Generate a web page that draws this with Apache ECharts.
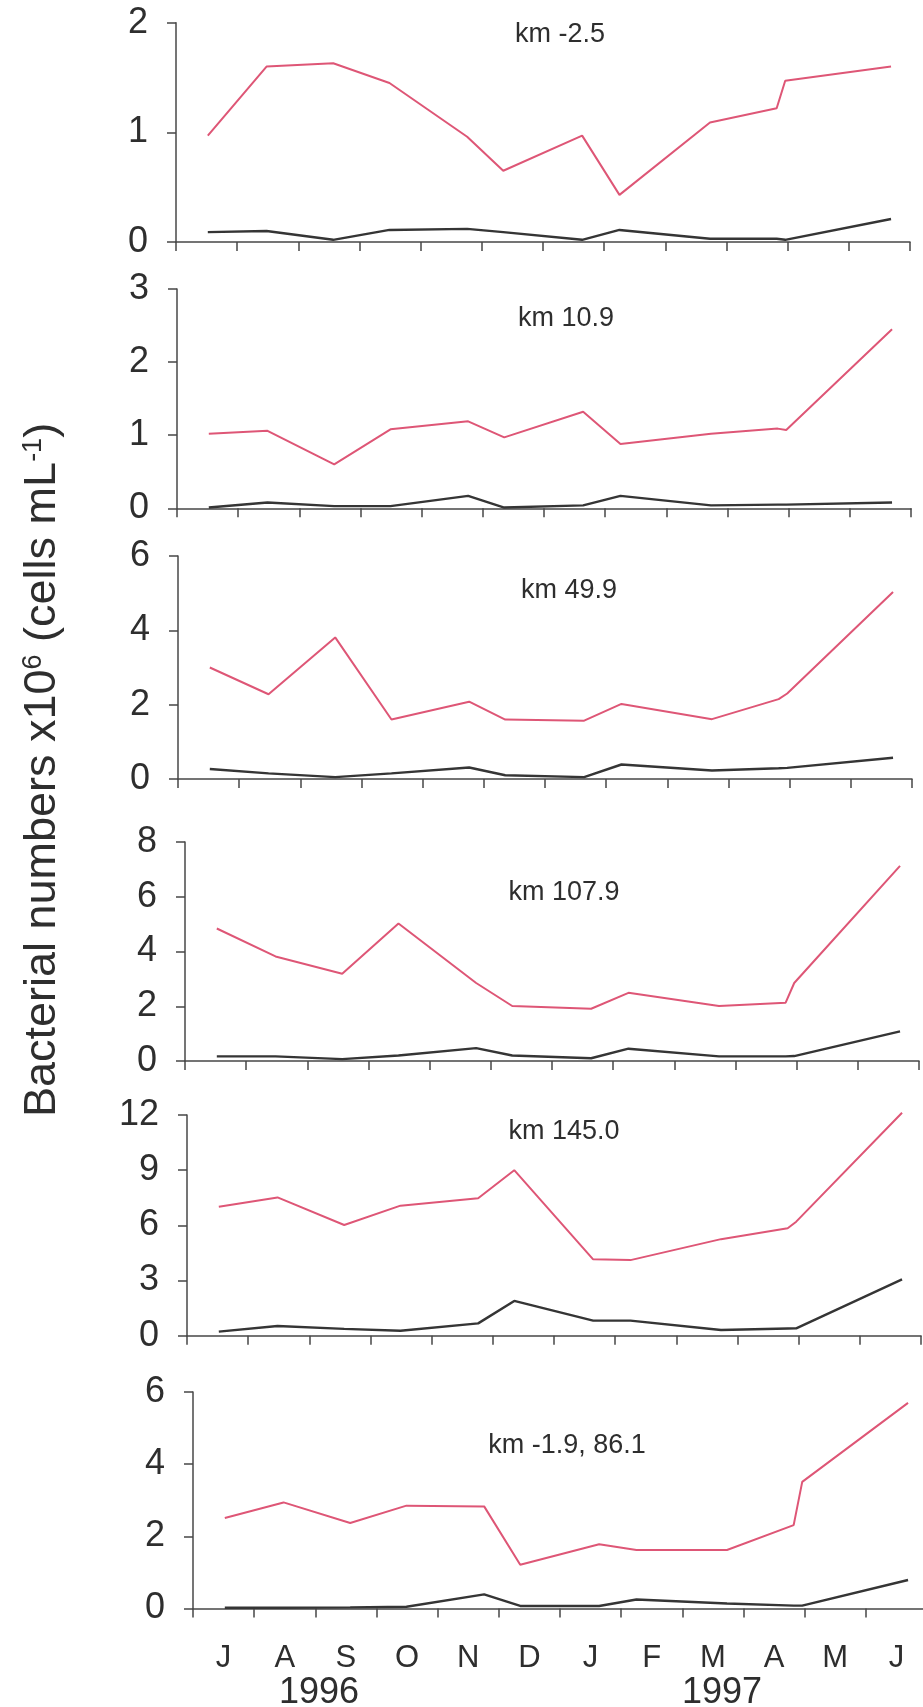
<!DOCTYPE html>
<html>
<head>
<meta charset="utf-8">
<title>Bacterial numbers</title>
<script src="https://cdn.jsdelivr.net/npm/echarts@6/dist/echarts.min.js"></script>
<style>
  html, body { margin: 0; padding: 0; background: #ffffff; }
  #chart { width: 923px; height: 1707px; }
</style>
</head>
<body>
<div id="chart"></div>
<script>
// Month initials along the bottom axis (July 1996 to June 1997)
const monthLabels = ['J', 'A', 'S', 'O', 'N', 'D', 'J', 'F', 'M', 'A', 'M', 'J'];
const yearLabels = ['1996', '1997'];

// Sampling dates, in months elapsed since 1 July 1996
const sampleMonths = [0.52, 1.48, 2.57, 3.49, 4.76, 5.35, 6.64, 7.25, 8.73, 9.82, 9.96, 11.69];

// Station names, one per panel
const stations = ['km -2.5', 'km 10.9', 'km 49.9', 'km 107.9', 'km 145.0', 'km -1.9, 86.1'];

// Bacterial numbers (x10^6 cells per mL), pink line then dark line, per station
const pinkKm2_5   = [0.97, 1.60, 1.63, 1.45, 0.96, 0.65, 0.97, 0.43, 1.09, 1.22, 1.47, 1.60];
const darkKm2_5   = [0.09, 0.10, 0.02, 0.11, 0.12, 0.09, 0.02, 0.11, 0.03, 0.03, 0.02, 0.21];
const pinkKm10_9  = [1.02, 1.06, 0.60, 1.08, 1.19, 0.97, 1.32, 0.88, 1.02, 1.09, 1.07, 2.45];
const darkKm10_9  = [0.01, 0.08, 0.03, 0.03, 0.17, 0.01, 0.04, 0.17, 0.04, 0.05, 0.05, 0.08];
const pinkKm49_9  = [3.00, 2.28, 3.81, 1.60, 2.08, 1.60, 1.57, 2.02, 1.61, 2.15, 2.30, 5.03];
const darkKm49_9  = [0.27, 0.15, 0.05, 0.15, 0.31, 0.10, 0.05, 0.39, 0.23, 0.29, 0.30, 0.57];
const pinkKm107_9 = [4.84, 3.82, 3.19, 5.02, 2.85, 2.01, 1.91, 2.49, 2.01, 2.13, 2.85, 7.13];
const darkKm107_9 = [0.17, 0.17, 0.07, 0.20, 0.47, 0.20, 0.10, 0.45, 0.17, 0.17, 0.18, 1.08];
const pinkKm145_0 = [7.01, 7.52, 6.02, 7.07, 7.47, 9.00, 4.15, 4.11, 5.25, 5.84, 6.20, 12.12];
const darkKm145_0 = [0.22, 0.53, 0.37, 0.27, 0.67, 1.89, 0.82, 0.82, 0.31, 0.39, 0.40, 3.06];
const pinkKm86_1  = [2.51, 2.94, 2.37, 2.85, 2.83, 1.21, 1.78, 1.62, 1.62, 2.31, 3.51, 5.70];
const darkKm86_1  = [0.02, 0.02, 0.03, 0.05, 0.39, 0.07, 0.07, 0.25, 0.14, 0.08, 0.08, 0.79];

// Y-axis extent and tick step per panel
const yMax  = [2, 3, 6, 8, 12, 6];
const yStep = [1, 1, 2, 2, 3, 2];

const pinkSets = [pinkKm2_5, pinkKm10_9, pinkKm49_9, pinkKm107_9, pinkKm145_0, pinkKm86_1];
const darkSets = [darkKm2_5, darkKm10_9, darkKm49_9, darkKm107_9, darkKm145_0, darkKm86_1];

// Panel placement on the page
const panelBoxes = [
  { left: 176, top: 22.7, height: 219.3 },
  { left: 177, top: 289,  height: 219.3 },
  { left: 178, top: 556,  height: 223 },
  { left: 185, top: 842,  height: 219 },
  { left: 187, top: 1115, height: 220.7 },
  { left: 193, top: 1392, height: 216.5 }
];
const panelWidth = 734;
const stationLabelPos = [[560, 35], [566, 319], [569, 591], [564, 893], [564, 1132], [567, 1446]];

const FONT = '"Liberation Sans", Arial, Helvetica, sans-serif';
const AXIS_COLOR = '#474747';
const TEXT_COLOR = '#2e2e2e';
const PINK = '#de5676';
const DARK = '#353535';

const grids = [], xAxes = [], yAxes = [], series = [], graphics = [];
const last = panelBoxes.length - 1;

panelBoxes.forEach((box, i) => {
  grids.push({
    left: box.left, top: box.top, width: panelWidth, height: box.height,
    containLabel: false, outerBoundsMode: 'none'
  });
  xAxes.push({
    type: 'value', gridIndex: i, min: 0, max: 12, interval: 1,
    axisLine: { show: true, onZero: false, lineStyle: { color: AXIS_COLOR, width: 1.5 } },
    axisTick: { show: true, inside: false, length: 9, lineStyle: { color: AXIS_COLOR, width: 1.5 } },
    splitLine: { show: false },
    axisLabel: i === last ? {
      show: true,
      customValues: monthLabels.map((m, k) => k + 0.5),
      formatter: v => monthLabels[Math.floor(v)],
      fontSize: 31, fontFamily: FONT, color: TEXT_COLOR, margin: 34
    } : { show: false }
  });
  yAxes.push({
    type: 'value', gridIndex: i, min: 0, max: yMax[i], interval: yStep[i],
    axisLine: { show: true, lineStyle: { color: AXIS_COLOR, width: 1.5 } },
    axisTick: { show: true, inside: false, length: 9, lineStyle: { color: AXIS_COLOR, width: 1.5 } },
    splitLine: { show: false },
    axisLabel: { show: true, fontSize: 36, fontFamily: FONT, color: TEXT_COLOR, margin: 28 }
  });
  series.push({
    name: 'pink ' + stations[i], type: 'line', xAxisIndex: i, yAxisIndex: i,
    data: sampleMonths.map((m, k) => [m, pinkSets[i][k]]),
    symbol: 'none', clip: false, silent: true,
    lineStyle: { color: PINK, width: 2 }
  });
  series.push({
    name: 'dark ' + stations[i], type: 'line', xAxisIndex: i, yAxisIndex: i,
    data: sampleMonths.map((m, k) => [m, darkSets[i][k]]),
    symbol: 'none', clip: false, silent: true,
    lineStyle: { color: DARK, width: 2.4 }
  });
  graphics.push({
    type: 'text', x: stationLabelPos[i][0], y: stationLabelPos[i][1], silent: true,
    style: {
      text: stations[i], fontSize: 27, fontFamily: FONT, fill: TEXT_COLOR,
      align: 'center', verticalAlign: 'middle'
    }
  });
});

// Year captions under the month initials
graphics.push({
  type: 'text', x: 319, y: 1693, silent: true,
  style: { text: yearLabels[0], fontSize: 36, fontFamily: FONT, fill: TEXT_COLOR, align: 'center', verticalAlign: 'middle' }
});
graphics.push({
  type: 'text', x: 722, y: 1693, silent: true,
  style: { text: yearLabels[1], fontSize: 36, fontFamily: FONT, fill: TEXT_COLOR, align: 'center', verticalAlign: 'middle' }
});

// Shared vertical axis title
graphics.push({
  type: 'text', x: 43, y: 770, rotation: Math.PI / 2, silent: true,
  style: {
    text: 'Bacterial numbers x10{sup|6} (cells mL{sup|-1})',
    fontSize: 45, fontFamily: FONT, fill: TEXT_COLOR,
    align: 'center', verticalAlign: 'middle',
    rich: {
      sup: { fontSize: 27, fontFamily: FONT, fill: TEXT_COLOR, verticalAlign: 'top' }
    }
  }
});

const chart = echarts.init(document.getElementById('chart'), null, { renderer: 'canvas' });
chart.setOption({
  animation: false,
  backgroundColor: '#ffffff',
  grid: grids,
  xAxis: xAxes,
  yAxis: yAxes,
  series: series,
  graphic: { elements: graphics }
});
</script>
</body>
</html>
